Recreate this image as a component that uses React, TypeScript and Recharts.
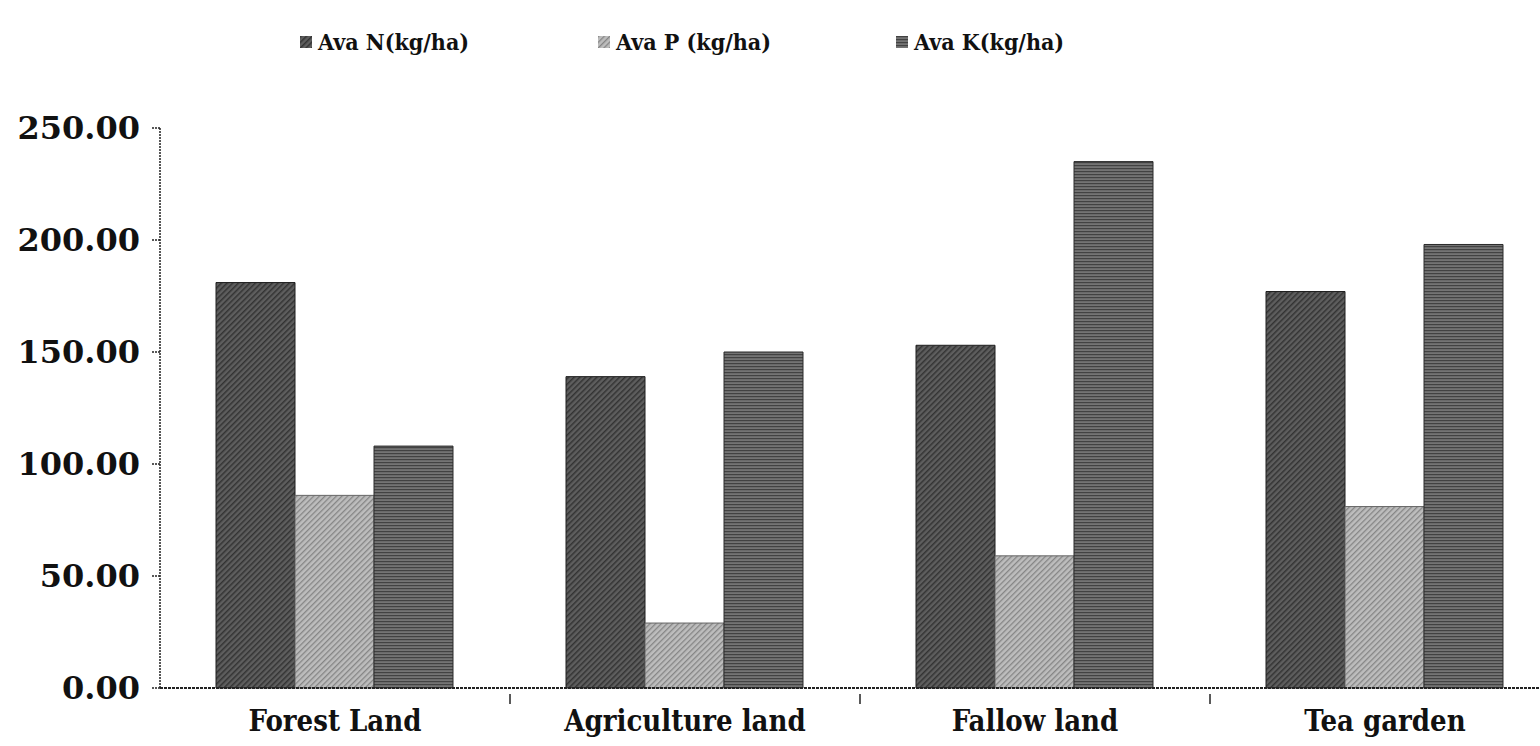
import { Bar, BarChart, Legend, XAxis, YAxis } from "recharts";

const categories = ["Forest Land", "Agriculture land", "Fallow land", "Tea garden"];
const avaN = [181, 139, 153, 177];
const avaP = [86, 29, 59, 81];
const avaK = [108, 150, 235, 198];
const seriesNames = ["Ava N(kg/ha)", "Ava P (kg/ha)", "Ava K(kg/ha)"];
const yTicks = [0, 50, 100, 150, 200, 250];

const data = categories.map((name, i) => ({ name, n: avaN[i], p: avaP[i], k: avaK[i] }));

const FONT = "'DejaVu Serif', serif";
const fills = ["url(#patN)", "url(#patP)", "url(#patK)"];

function LegendBox() {
  return (
    <div style={{ display: "flex", fontFamily: FONT, fontWeight: 700, fontSize: 23, fontStretch: "condensed", color: "#111" }}>
      {seriesNames.map((s, i) => (
        <div key={s} style={{ width: 298, display: "flex", alignItems: "center" }}>
          <svg width={12} height={12} style={{ marginRight: 6 }}>
            <rect width={12} height={12} fill={fills[i]} />
          </svg>
          {s}
        </div>
      ))}
    </div>
  );
}

// category label plus a small tick mark at the band's right edge (between categories)
function CategoryTick(props: any) {
  const { x, y, payload, index } = props;
  const half = payload.offset || 0;
  return (
    <g>
      {index < categories.length - 1 && (
        <line x1={x + half} x2={x + half} y1={y - 16} y2={y - 6} stroke="#222" strokeWidth={1.5} />
      )}
      <text
        x={x}
        y={y}
        dy="0.71em"
        textAnchor="middle"
        fill="#111"
        fontFamily={FONT}
        fontWeight={700}
        fontSize={29}
        style={{ fontStretch: "condensed" }}
      >
        {payload.value}
      </text>
    </g>
  );
}

export default function App() {
  return (
    <div style={{ position: "fixed", left: 0, top: 0, width: 1540, height: 746, overflow: "hidden", background: "#fff" }}>
      <BarChart
        width={1560}
        height={746}
        data={data}
        margin={{ top: 128, right: 0, bottom: 0, left: 0 }}
        barCategoryGap="16%"
        barGap={0}
      >
        <defs>
          <pattern id="patN" width="4" height="4" patternUnits="userSpaceOnUse" patternTransform="rotate(45)">
            <rect width="4" height="4" fill="#5e5e5e" />
            <rect width="1.5" height="4" fill="#333" />
          </pattern>
          <pattern id="patP" width="4" height="4" patternUnits="userSpaceOnUse" patternTransform="rotate(45)">
            <rect width="4" height="4" fill="#bdbdbd" />
            <rect width="1.3" height="4" fill="#858585" />
          </pattern>
          <pattern id="patK" width="4" height="3" patternUnits="userSpaceOnUse">
            <rect width="4" height="3" fill="#747474" />
            <rect width="4" height="1.2" fill="#424242" />
          </pattern>
        </defs>
        <XAxis
          dataKey="name"
          height={58}
          tickLine={false}
          tickMargin={16}
          axisLine={{ stroke: "#222", strokeWidth: 2, strokeDasharray: "3 1" }}
          tick={<CategoryTick />}
        />
        <YAxis
          domain={[0, 250]}
          ticks={yTicks}
          width={160}
          tickSize={8}
          tickMargin={12}
          tickFormatter={(v: number) => v.toFixed(2)}
          axisLine={{ stroke: "#222", strokeWidth: 1.5, strokeDasharray: "2 1" }}
          tickLine={{ stroke: "#222", strokeWidth: 1.5, strokeDasharray: "2 1" }}
          tick={{ fill: "#111", fontFamily: FONT, fontWeight: 700, fontSize: 32 }}
        />
        <Legend
          layout="horizontal"
          verticalAlign="middle"
          align="center"
          wrapperStyle={{ top: 28, left: 300, width: 900 }}
          content={() => <LegendBox />}
        />
        <Bar dataKey="n" name={seriesNames[0]} fill={fills[0]} stroke="#1e1e1e" strokeWidth={1} isAnimationActive={false} />
        <Bar dataKey="p" name={seriesNames[1]} fill={fills[1]} stroke="#666" strokeWidth={1} isAnimationActive={false} />
        <Bar dataKey="k" name={seriesNames[2]} fill={fills[2]} stroke="#2a2a2a" strokeWidth={1} isAnimationActive={false} />
      </BarChart>
    </div>
  );
}
